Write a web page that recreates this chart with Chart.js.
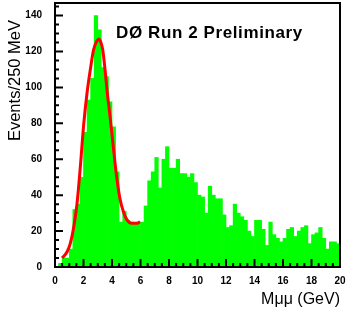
<!DOCTYPE html>
<html><head><meta charset="utf-8">
<script src="https://cdn.jsdelivr.net/npm/chart.js@4.4.1/dist/chart.umd.min.js"></script>
<style>html,body{margin:0;padding:0;background:#fff;overflow:hidden}#wrap{width:349px;height:315px}</style>
</head><body><div id="wrap"><canvas id="c" width="349" height="315"></canvas></div>
<script>
// Events per 250 MeV bin, 0 - 20 GeV (80 bins)
const counts = [
  0, 2, 5, 5, 10, 32, 35, 50, 75, 93,
  105, 140, 132, 111, 106, 92, 78, 53, 25, 31,
  26, 25, 24, 25, 25, 34, 48, 53, 61, 44,
  60, 67, 55, 55, 60, 52, 52, 50, 52, 47,
  40, 39, 30, 45, 40, 38, 38, 29, 22, 23,
  35, 30, 28, 26, 20, 17, 26, 26, 21, 12,
  25, 18, 16, 14, 16, 21, 22, 17, 20, 22,
  23, 13, 18, 19, 22, 16, 10, 14, 14, 13
];
const binWidth = 0.25; // GeV
const binCenters = counts.map((_, i) => (i + 0.5) * binWidth);

// Fit curve (GeV, events)
const fitX = [0.5, 0.85, 1.07, 1.31, 1.54, 1.78, 2.01, 2.25, 2.48, 2.71, 2.95, 3.08, 3.2, 3.35, 3.51, 3.67, 3.86, 4.09, 4.33, 4.56, 4.79, 5.03, 5.38, 5.73, 5.96];
const fitY = [5, 8.5, 13, 22, 35, 56, 79, 97, 110, 121, 126, 127, 125.5, 121, 110, 97, 84, 67, 50, 38, 31, 26.5, 24.3, 24.3, 25.2];

const xTickValues = [0, 2, 4, 6, 8, 10, 12, 14, 16, 18, 20];
const yTickValues = [0, 20, 40, 60, 80, 100, 120, 140];
const titleText = 'DØ Run 2 Preliminary';
const xTitle = 'Mμμ (GeV)';
const yTitle = 'Events/250 MeV';

const FONT = '"Liberation Sans", Arial, Helvetica, sans-serif';

const decor = {
  id: 'decor',
  afterDraw(chart) {
    const { ctx, chartArea: a, scales: { x, y } } = chart;
    ctx.save();
    ctx.strokeStyle = '#000';
    ctx.lineWidth = 2;
    ctx.strokeRect(a.left, a.top, a.right - a.left, a.bottom - a.top);
    ctx.beginPath();
    for (let v = x.min; v <= x.max + 1e-9; v += 0.5) {
      const px = x.getPixelForValue(v);
      const major = Math.abs(v / 2 - Math.round(v / 2)) < 1e-6;
      ctx.moveTo(px, a.bottom);
      ctx.lineTo(px, a.bottom - (major ? 8 : 4));
    }
    for (let v = 0; v <= 145 + 1e-9; v += 5) {
      const py = y.getPixelForValue(v);
      const major = v % 20 === 0;
      ctx.moveTo(a.left, py);
      ctx.lineTo(a.left + (major ? 8 : 4), py);
    }
    ctx.stroke();

    ctx.fillStyle = '#000';
    ctx.textBaseline = 'alphabetic';
    ctx.font = 'bold 17px ' + FONT;
    ctx.textAlign = 'left';
    if ('letterSpacing' in ctx) ctx.letterSpacing = '0.6px';
    ctx.fillText(titleText, 116, 38);
    if ('letterSpacing' in ctx) ctx.letterSpacing = '0px';

    ctx.font = '16px ' + FONT;
    ctx.textAlign = 'right';
    ctx.fillText(xTitle, 340, 304);

    ctx.save();
    ctx.translate(20, 20);
    ctx.rotate(-Math.PI / 2);
    ctx.font = '16.5px ' + FONT;
    ctx.textAlign = 'right';
    ctx.fillText(yTitle, 0, 0);
    ctx.restore();
    ctx.restore();
  }
};

new Chart(document.getElementById('c'), {
  type: 'bar',
  data: {
    datasets: [
      {
        type: 'line',
        order: 0,
        data: fitX.map((v, i) => ({ x: v, y: fitY[i] })),
        borderColor: '#ff0000',
        borderWidth: 3,
        pointRadius: 0,
        fill: false,
        cubicInterpolationMode: 'monotone'
      },
      {
        type: 'bar',
        order: 1,
        data: binCenters.map((v, i) => ({ x: v, y: counts[i] })),
        backgroundColor: '#00ff00',
        borderWidth: 0,
        barPercentage: 1,
        categoryPercentage: 1
      }
    ]
  },
  options: {
    responsive: false,
    animation: false,
    layout: { padding: { left: 0, right: 9, top: 3, bottom: 0 } },
    plugins: { legend: { display: false }, tooltip: { enabled: false } },
    scales: {
      x: {
        type: 'linear',
        min: 0, max: 20,
        offset: false,
        grid: { display: false, drawTicks: false, offset: false },
        border: { display: false },
        afterBuildTicks(s) { s.ticks = xTickValues.map(v => ({ value: v })); },
        afterFit(s) { s.height = 48; s.paddingLeft = 0; s.paddingRight = 0; s.paddingTop = 0; s.paddingBottom = 0; },
        ticks: {
          autoSkip: false, maxRotation: 0, padding: 8,
          color: '#000', font: { family: FONT, size: 10, weight: 'bold' },
          callback: v => String(v)
        }
      },
      y: {
        type: 'linear',
        min: 0, max: 147,
        grid: { display: false, drawTicks: false },
        border: { display: false },
        afterBuildTicks(s) { s.ticks = yTickValues.map(v => ({ value: v })); },
        afterFit(s) { s.width = 55; s.paddingLeft = 0; s.paddingRight = 0; s.paddingTop = 0; s.paddingBottom = 0; },
        ticks: {
          autoSkip: false, padding: 13,
          color: '#000', font: { family: FONT, size: 10, weight: 'bold' },
          callback: v => String(v)
        }
      }
    }
  },
  plugins: [decor]
});
</script>
</body></html>
